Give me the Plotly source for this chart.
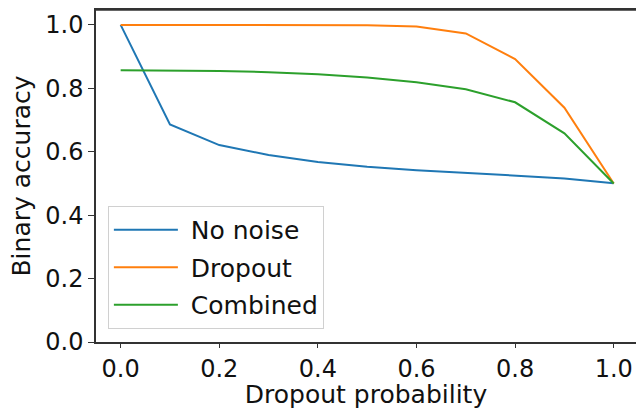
import plotly.graph_objects as go

dropout_prob = [0.0, 0.1, 0.2, 0.3, 0.4, 0.5, 0.6, 0.7, 0.8, 0.9, 1.0]
no_noise = [1.0, 0.686, 0.621, 0.590, 0.568, 0.553, 0.542, 0.534, 0.524, 0.516, 0.501]
dropout = [1.0, 1.0, 1.0, 1.0, 1.0, 0.999, 0.995, 0.973, 0.892, 0.739, 0.5]
combined = [0.857, 0.857, 0.855, 0.851, 0.844, 0.834, 0.819, 0.797, 0.756, 0.658, 0.5]

series = [
    ("No noise", no_noise, "#1f77b4"),
    ("Dropout", dropout, "#ff7f0e"),
    ("Combined", combined, "#2ca02c"),
]

fig = go.Figure()
for i, (name, vals, col) in enumerate(series):
    fig.add_trace(go.Scatter(x=dropout_prob, y=vals, name="\u00a0" + name, mode="lines",
                             legendgroup="g%d" % i,
                             line=dict(color=col, width=2)))

font = dict(family="DejaVu Sans", size=25, color="#111")
tickfont = dict(family="DejaVu Sans", size=24, color="#111")
fig.add_shape(type="line", xref="paper", yref="paper", x0=0, x1=1, y0=1, y1=1,
              line=dict(color="#333", width=1.5))
fig.update_layout(
    width=636, height=409,
    margin=dict(l=96, r=0, t=10, b=67),
    paper_bgcolor="white", plot_bgcolor="white",
    font=font,
    showlegend=True,
    legend=dict(x=0.022, y=0.41, xanchor="left", yanchor="top",
                bgcolor="white", bordercolor="#d0d0d0", borderwidth=1,
                font=font, itemwidth=64, traceorder="grouped", tracegroupgap=2),
    xaxis=dict(range=[-0.05, 1.0452], tickvals=[0, 0.2, 0.4, 0.6, 0.8, 1.0],
               tickformat=".1f", ticks="outside", ticklen=4, tickcolor="#333",
               tickfont=tickfont,
               showline=True, linecolor="#333", linewidth=1.5, mirror=True,
               showgrid=False, zeroline=False,
               title=dict(text="Dropout probability", font=font, standoff=7)),
    yaxis=dict(range=[0, 1.047], tickvals=[0, 0.2, 0.4, 0.6, 0.8, 1.0],
               tickformat=".1f", ticks="outside", ticklen=6, tickcolor="#333",
               tickfont=tickfont,
               showline=True, linecolor="#333", linewidth=1.5, mirror=False,
               showgrid=False, zeroline=False,
               title=dict(text="Binary accuracy", font=font, standoff=8)),
)
fig.write_html("out.html")
